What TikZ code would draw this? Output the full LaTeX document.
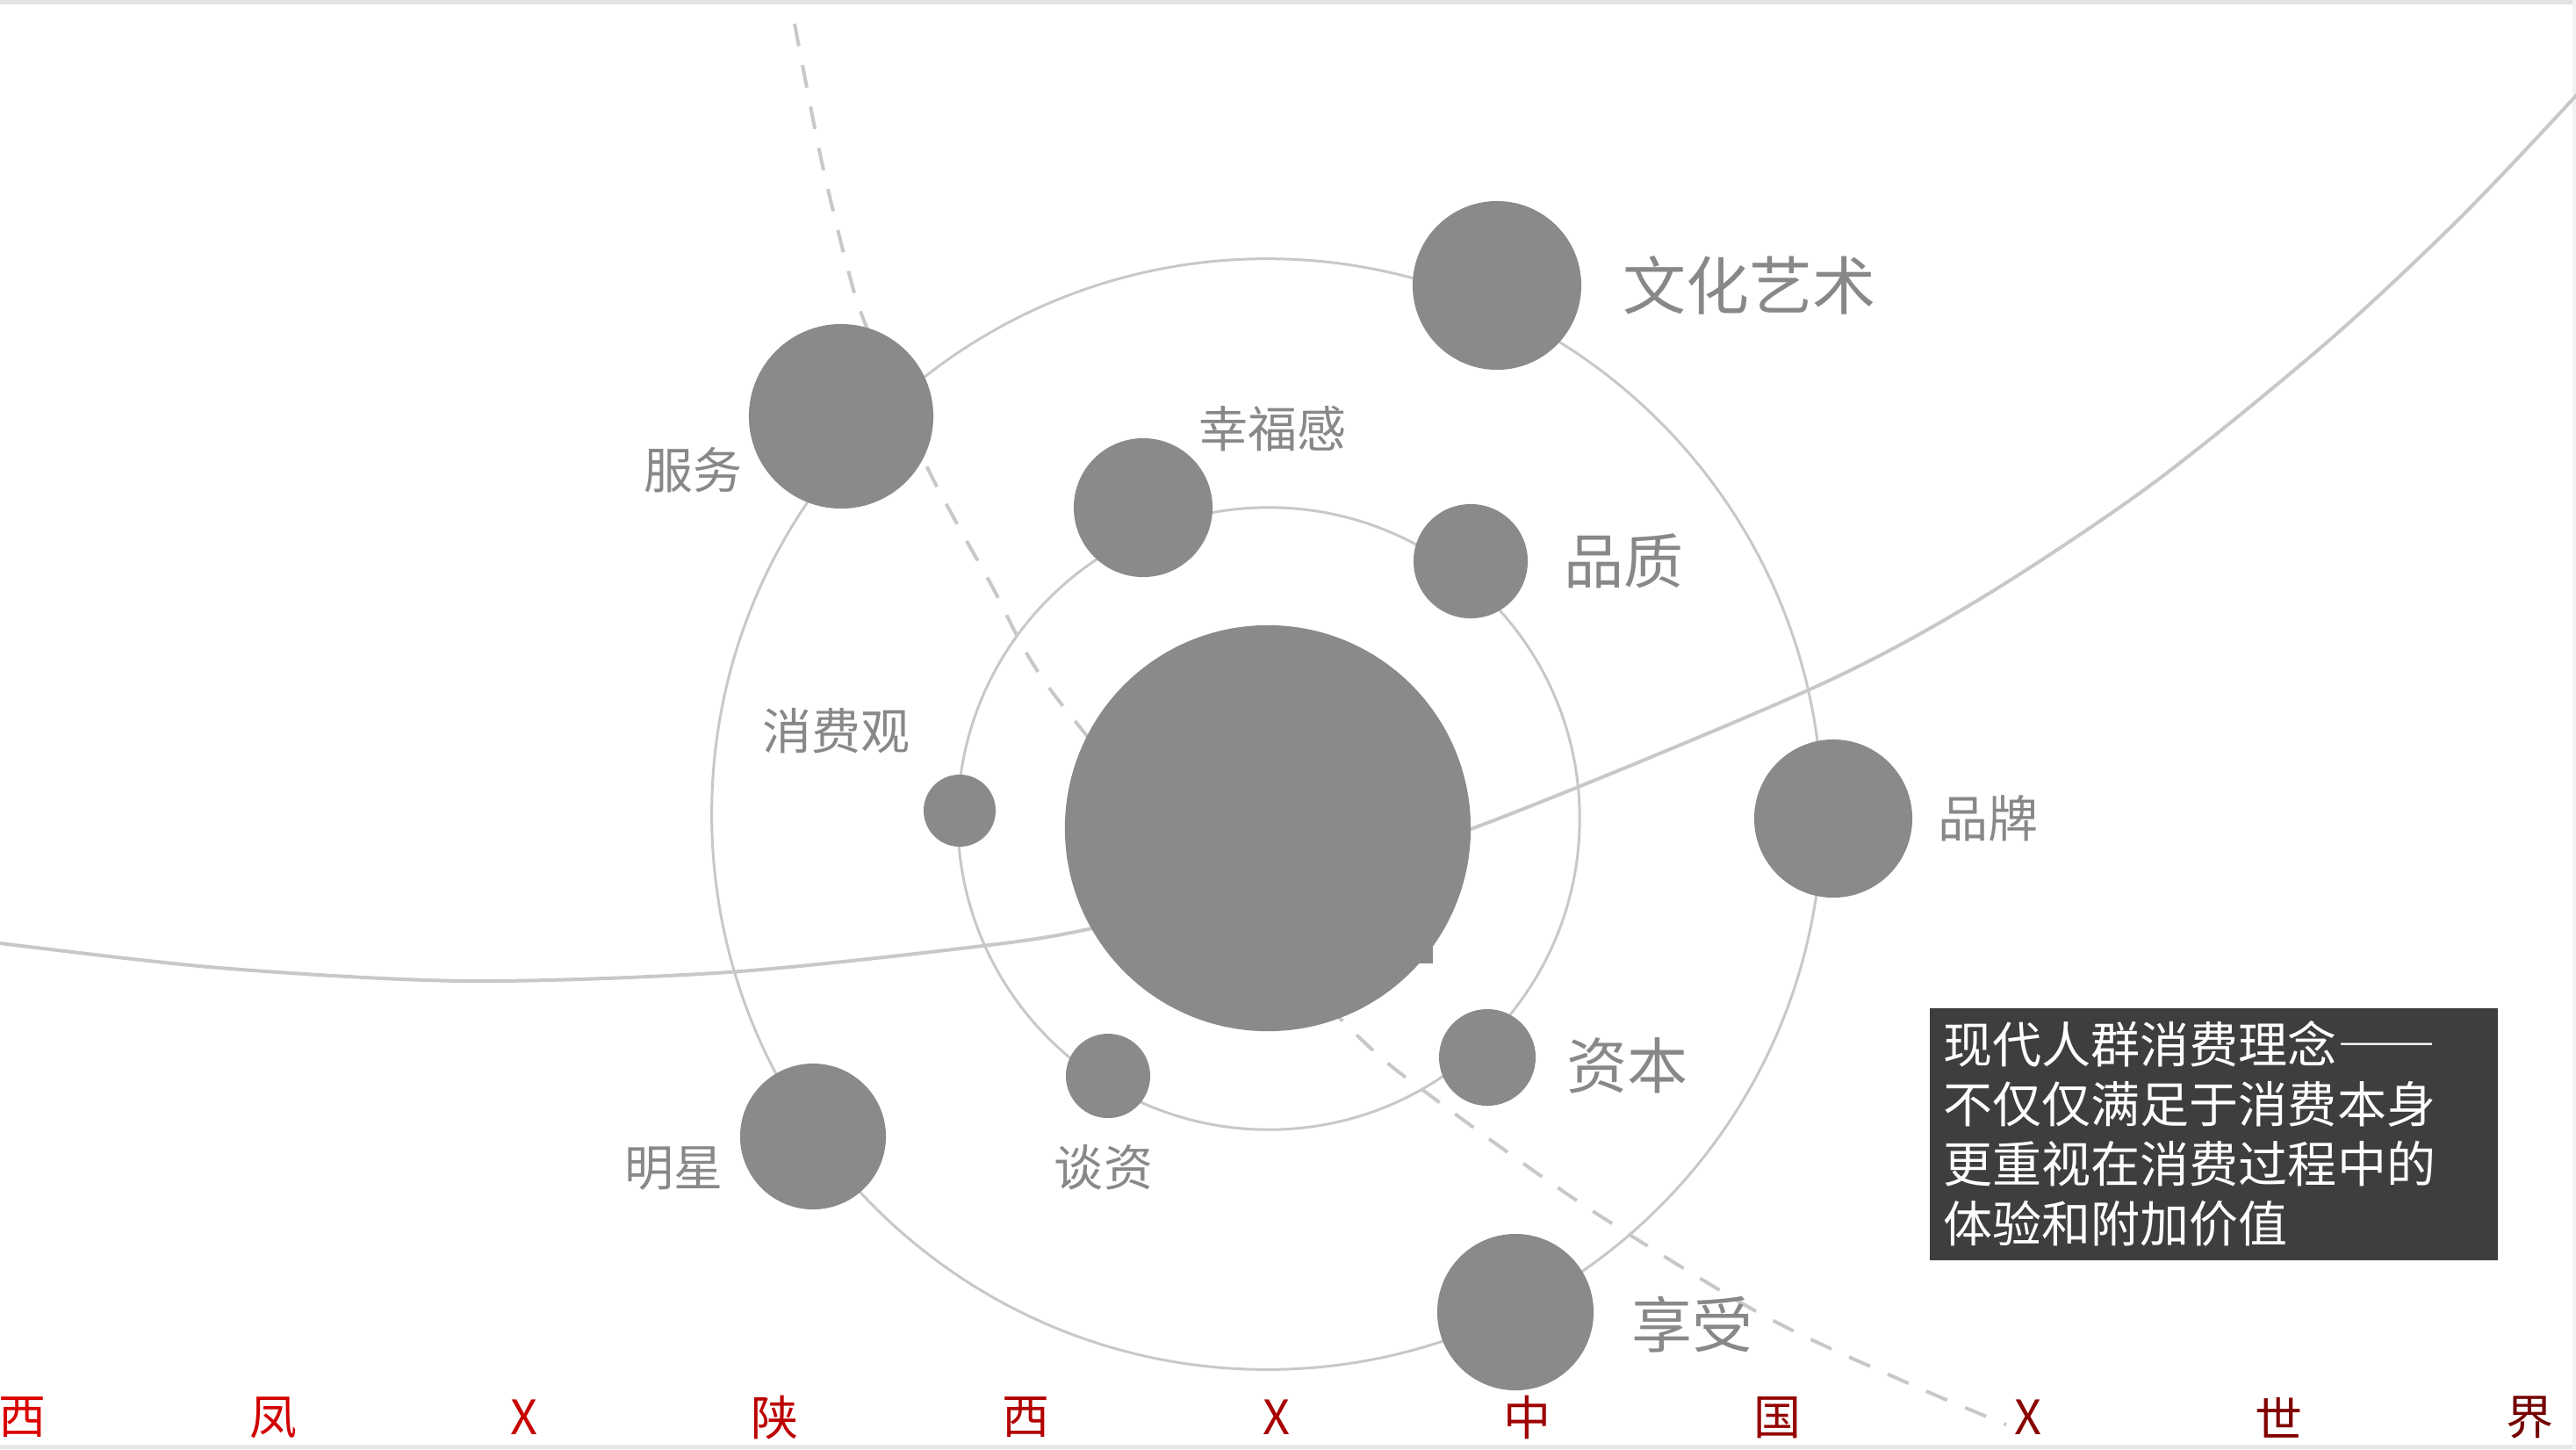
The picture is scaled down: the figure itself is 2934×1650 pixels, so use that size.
\documentclass[tikz,border=0pt]{standalone}
\usepackage{fontspec}
\setmainfont{Noto Sans CJK SC}
\usepackage{tikz}
\usetikzlibrary{positioning}
\definecolor{planetgray}{HTML}{8A8A8A}
\definecolor{orbitgray}{HTML}{C8C8C8}
\definecolor{labelgray}{HTML}{888888}
\definecolor{notegray}{HTML}{3E3E3E}
\tikzset{
  planet/.style={circle, fill=planetgray, inner sep=0pt, minimum size=#1},
  orbit/.style={draw=orbitgray, line width=0.03cm},
  lbl/.style={text=labelgray, inner sep=0pt, font=\fontsize{#1}{#1}\selectfont},
  lbl/.default=0.56cm,
  notebox/.style={fill=notegray, text=white, align=left, text width=6.15cm,
    inner xsep=0.16cm, inner ysep=0.15cm, font=\fontsize{0.56cm}{0.68cm}\selectfont},
  bottomtext/.style={inner sep=0pt, font=\fontsize{0.54cm}{0.54cm}\selectfont}
}

\begin{document}
\begin{tikzpicture}[x=0.01cm, y=-0.01cm]
  \useasboundingbox (0,0) rectangle (2934,1650);
  \fill[gray!22] (0,0) rectangle (2934,5);
  \fill[gray!18] (0,1645) rectangle (2934,1650);
  \fill[gray!10] (2930,0) rectangle (2934,1650);
  % orbits
  \draw[orbit] (1443,927) circle [radius=6.32cm];
  \draw[orbit] (1445,932) circle [radius=3.54cm];
  \draw[orbit, line width=0.04cm] plot[smooth] coordinates {(-40,1068) (0,1074) (250,1102)
    (531,1117) (829,1107) (1119,1077) (1244,1057) (1460,1005) (1675,944) (2059,786)
    (2250,685) (2450,552) (2650,390) (2800,250) (2933,110) (2990,45)};
  \draw[orbitgray, line width=0.04cm, dash pattern=on 0.26cm off 0.22cm] plot[smooth]
    coordinates {(905,27) (935,180) (964,300) (986,370) (1055,530) (1128,664) (1197,786)
    (1385,1010) (1550,1183) (1642,1257) (1805,1373) (2009,1498) (2178,1577) (2285,1622)};
  % planets
  \node[planet=4.62cm] (core) at (1444,943) {};
  \fill[planetgray] (1400,1000) rectangle (1632,1097);
  \node[planet=2.10cm] (fuwu) at (958,474) {};
  \node[planet=1.92cm] (wenhua) at (1705,325) {};
  \node[planet=1.80cm] (pinpai) at (2088,932) {};
  \node[planet=1.78cm] (xiangshou) at (1726,1494) {};
  \node[planet=1.66cm] (mingxing) at (926,1294) {};
  \node[planet=1.58cm] (xingfu) at (1302,578) {};
  \node[planet=1.30cm] (pinzhi) at (1675,639) {};
  \node[planet=1.10cm] (ziben) at (1694,1204) {};
  \node[planet=0.96cm] (tanzi) at (1262,1225) {};
  \node[planet=0.82cm] (xiaofei) at (1093,923) {};
  % labels
  \node[lbl=0.72cm, right=0.46cm of wenhua] (wenhuaL) {文化艺术};
  \node[lbl=0.68cm, right=0.40cm of pinzhi] (pinzhiL) {品质};
  \node[lbl=0.57cm, right=0.28cm of pinpai] (pinpaiL) {品牌};
  \node[lbl=0.69cm, right=0.34cm of ziben, yshift=-0.09cm] (zibenL) {资本};
  \node[lbl=0.69cm, right=0.42cm of xiangshou, yshift=-0.14cm] (xiangshouL) {享受};
  \node[lbl, left=0.06cm of fuwu, yshift=-0.61cm] (fuwuL) {服务};
  \node[lbl, left=0.18cm of mingxing, yshift=-0.36cm] (mingxingL) {明星};
  \node[lbl, above=0.23cm of xiaofei, xshift=-1.40cm] (xiaofeiL) {消费观};
  \node[lbl, below=0.29cm of tanzi, xshift=-0.05cm] (tanziL) {谈资};
  \node[lbl, above right=0.07cm and 0.06cm of xingfu] (xingfuL) {幸福感};
  % note
  \node[notebox, anchor=north west] (note) at (2197,1147)
    {现代人群消费理念{\addfontfeature{RawFeature=+fwid}——}\\不仅仅满足于消费本身\\更重视在消费过程中的\\体验和附加价值};
  % bottom line
  \foreach \ch [count=\i from 0] in {西,凤,X,陕,西,X,中,国,X,世,界}{
    \pgfmathtruncatemacro\redpart{86-4*\i}
    \node[bottomtext, text=red!\redpart!black] (b\i) at (26+285.5*\i,1614) {\ch};
  }
\end{tikzpicture}
\end{document}
